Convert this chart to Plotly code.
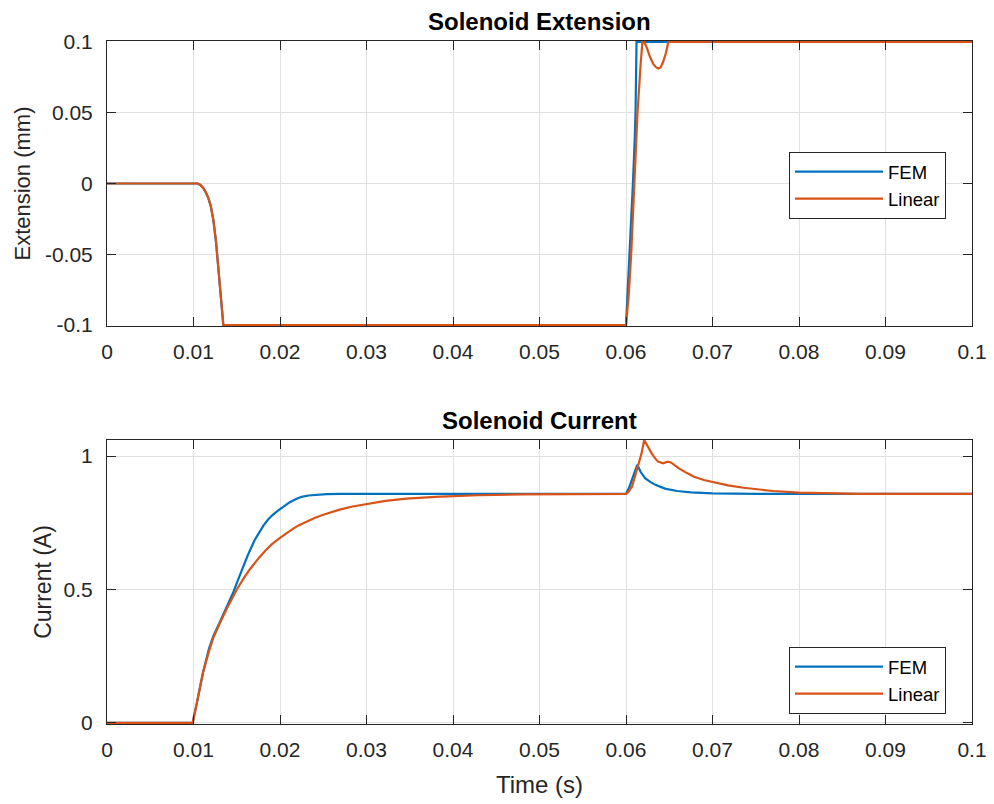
import plotly.graph_objects as go

# ---------------- data ----------------
# Solenoid extension (mm) vs time (s)
ext_t_fem = [0, 0.0105, 0.0108, 0.0111, 0.0114, 0.0117, 0.0120, 0.0123, 0.0126, 0.0129, 0.0132, 0.01345,
             0.0600, 0.0602, 0.0604, 0.0606, 0.0608, 0.0610, 0.0611, 0.06122, 0.1]
ext_fem = [0, 0, -0.001, -0.003, -0.006, -0.010, -0.016, -0.026, -0.041, -0.063, -0.085, -0.1,
           -0.1, -0.077, -0.05, -0.025, 0.0, 0.03, 0.05, 0.1, 0.1]

ext_t_lin = [0, 0.0105, 0.0108, 0.0111, 0.0114, 0.0117, 0.0120, 0.0123, 0.0126, 0.0129, 0.0132, 0.01345,
             0.0600, 0.0603, 0.0606, 0.0610, 0.06133, 0.0617, 0.0619, 0.0621, 0.0624, 0.0628, 0.0632,
             0.0635, 0.06374, 0.0640, 0.0643, 0.0646, 0.0649, 0.1]
ext_lin = [0, 0, -0.001, -0.003, -0.006, -0.010, -0.016, -0.026, -0.041, -0.063, -0.085, -0.1,
           -0.1, -0.08, -0.05, 0.0, 0.05, 0.085, 0.1, 0.1, 0.096, 0.089, 0.084,
           0.082, 0.0813, 0.082, 0.086, 0.092, 0.1, 0.1]

# Solenoid current (A) vs time (s)
cur_t_fem = [0, 0.0099, 0.0104, 0.0111, 0.0118, 0.0123, 0.0130, 0.0138, 0.0146, 0.0155, 0.0163, 0.0171,
             0.0176, 0.0181, 0.0186, 0.0191, 0.0198, 0.0205, 0.0211, 0.0218, 0.0225, 0.0233, 0.0242,
             0.0254, 0.0270,
             0.0600, 0.0604, 0.0608, 0.0613, 0.0617, 0.0622, 0.0628, 0.0634, 0.0645, 0.0659,
             0.0675, 0.0700, 0.0750, 0.1]
cur_fem = [0, 0, 0.077, 0.189, 0.28, 0.326, 0.375, 0.43, 0.49, 0.565, 0.63, 0.687,
           0.715, 0.740, 0.761, 0.778, 0.796, 0.813, 0.826, 0.838, 0.847, 0.852, 0.855,
           0.857, 0.858,
           0.858, 0.885, 0.925, 0.967, 0.94, 0.917, 0.903, 0.892, 0.878, 0.869,
           0.864, 0.860, 0.858, 0.858]

cur_t_lin = [0, 0.0099, 0.0104, 0.0111, 0.0118, 0.0123, 0.0130, 0.0138, 0.0150, 0.0155, 0.0160, 0.0165,
             0.0169, 0.0176, 0.0183, 0.0190, 0.0198, 0.0206, 0.0214, 0.0222, 0.0231, 0.0240, 0.0250,
             0.0259, 0.0269, 0.0284, 0.0300, 0.0322, 0.0346, 0.0385, 0.0430, 0.0480,
             0.0600, 0.0603, 0.0607, 0.0611, 0.0614, 0.0618, 0.0621, 0.0625, 0.0630, 0.0634,
             0.0637, 0.0643, 0.0648, 0.0652, 0.0657, 0.0662, 0.0670, 0.0678, 0.0690, 0.0700,
             0.0718, 0.0736, 0.0770, 0.0800, 0.0870, 0.0950, 0.1]
cur_lin = [0, 0, 0.077, 0.189, 0.27, 0.32, 0.37, 0.425, 0.50, 0.527, 0.552, 0.575,
           0.593, 0.620, 0.645, 0.668, 0.689, 0.708, 0.725, 0.741, 0.755, 0.768, 0.780,
           0.790, 0.799, 0.811, 0.821, 0.832, 0.840, 0.848, 0.853, 0.856,
           0.858, 0.866, 0.886, 0.93, 0.96, 1.01, 1.06, 1.035, 1.008, 0.99,
           0.979, 0.973, 0.979, 0.976, 0.963, 0.952, 0.937, 0.923, 0.910, 0.902,
           0.890, 0.881, 0.869, 0.863, 0.858, 0.858, 0.858]

x_tickvals = [0, 0.01, 0.02, 0.03, 0.04, 0.05, 0.06, 0.07, 0.08, 0.09, 0.1]
x_ticktext = ["0", "0.01", "0.02", "0.03", "0.04", "0.05", "0.06", "0.07", "0.08", "0.09", "0.1"]
ext_tickvals = [-0.1, -0.05, 0, 0.05, 0.1]
ext_ticktext = ["-0.1", "-0.05", "0", "0.05", "0.1"]
cur_tickvals = [0, 0.5, 1]
cur_ticktext = ["0", "0.5", "1"]

# ---------------- style ----------------
BLUE = "#0072BD"
ORANGE = "#D95319"
AX = "#262626"
GRID = "#e1e1e1"
FONT = "Liberation Sans, Arial, Helvetica, sans-serif"

fig = go.Figure()
fig.add_trace(go.Scatter(x=ext_t_fem, y=ext_fem, mode="lines", name="FEM",
                         line=dict(color=BLUE, width=2.2), xaxis="x", yaxis="y", legend="legend"))
fig.add_trace(go.Scatter(x=ext_t_lin, y=ext_lin, mode="lines", name="Linear",
                         line=dict(color=ORANGE, width=2.2), xaxis="x", yaxis="y", legend="legend"))
fig.add_trace(go.Scatter(x=cur_t_fem, y=cur_fem, mode="lines", name="FEM",
                         line=dict(color=BLUE, width=2.2), xaxis="x2", yaxis="y2", legend="legend2"))
fig.add_trace(go.Scatter(x=cur_t_lin, y=cur_lin, mode="lines", name="Linear",
                         line=dict(color=ORANGE, width=2.2), xaxis="x2", yaxis="y2", legend="legend2"))

common_axis = dict(showline=True, linecolor=AX, linewidth=1, mirror="ticks", ticks="inside",
                   ticklen=9, tickcolor=AX, tickwidth=1, showgrid=True, gridcolor=GRID, gridwidth=1,
                   zeroline=False, automargin=False, tickfont=dict(family=FONT, size=21, color=AX))

W, H = 994, 804
ml, mr, mt, mb = 107, 22, 41, 80
pw = W - ml - mr
ph = H - mt - mb
top_dom = [(724 - 326) / ph, 1.0]
bot_dom = [0.0, (724 - 440) / ph]

legend_common = dict(bgcolor="white", bordercolor=AX, borderwidth=1,
                     font=dict(family=FONT, size=18.5, color="#000000"),
                     xanchor="right", yanchor="top", itemwidth=88, tracegroupgap=0)

fig.update_layout(
    width=W, height=H,
    margin=dict(l=ml, r=mr, t=mt, b=mb, autoexpand=False),
    paper_bgcolor="white", plot_bgcolor="white",
    font=dict(family=FONT, color=AX),
    xaxis=dict(common_axis, domain=[0, 1], anchor="y", range=[0, 0.1],
               tickvals=x_tickvals, ticktext=x_ticktext, ticklabelstandoff=7),
    yaxis=dict(common_axis, domain=top_dom, anchor="x", range=[-0.1007, 0.1007],
               tickvals=ext_tickvals, ticktext=ext_ticktext, ticklabelstandoff=9,
               title=dict(text="Extension (mm)", font=dict(family=FONT, size=22, color=AX), standoff=8)),
    xaxis2=dict(common_axis, domain=[0, 1], anchor="y2", range=[0, 0.1],
                tickvals=x_tickvals, ticktext=x_ticktext, ticklabelstandoff=7,
                title=dict(text="Time (s)", font=dict(family=FONT, size=24, color=AX), standoff=15)),
    yaxis2=dict(common_axis, domain=bot_dom, anchor="x2", range=[-0.004, 1.06],
                tickvals=cur_tickvals, ticktext=cur_ticktext, ticklabelstandoff=9,
                title=dict(text="Current (A)", font=dict(family=FONT, size=23, color=AX), standoff=5)),
    legend=dict(legend_common, x=(946 - ml) / pw, y=(724 - 152) / ph),
    legend2=dict(legend_common, x=(946 - ml) / pw, y=(724 - 647) / ph),
    showlegend=True,
    annotations=[
        dict(text="<b>Solenoid Extension</b>", xref="x domain", yref="y domain", x=0.5, y=1,
             xanchor="center", yanchor="bottom", yshift=4, showarrow=False,
             font=dict(family=FONT, size=24, color="#000000")),
        dict(text="<b>Solenoid Current</b>", xref="x2 domain", yref="y2 domain", x=0.5, y=1,
             xanchor="center", yanchor="bottom", yshift=4, showarrow=False,
             font=dict(family=FONT, size=24, color="#000000")),
    ],
)

fig.write_html("out.html", config={"displayModeBar": False},
               post_script="document.body.style.margin='0';")
